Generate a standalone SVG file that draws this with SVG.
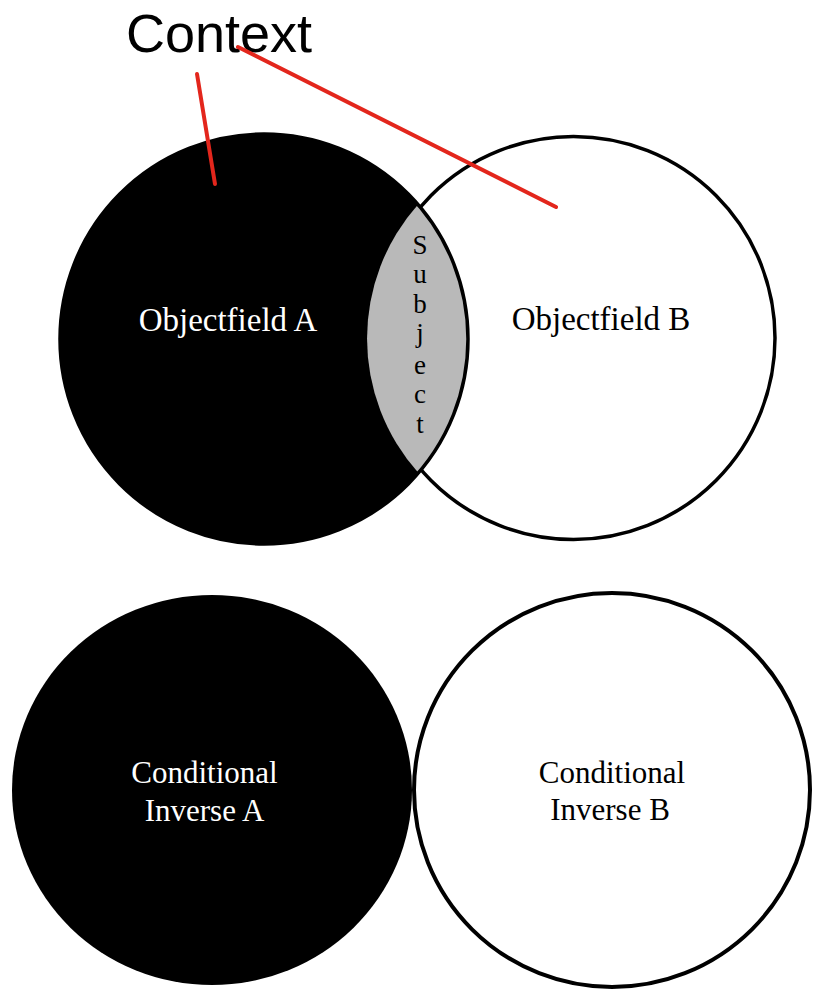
<svg xmlns="http://www.w3.org/2000/svg" width="818" height="998" viewBox="0 0 818 998">
<style>
.lbl{font-family:"Liberation Serif","Times New Roman",serif;text-anchor:middle}
.w{fill:#ffffff}
.k{fill:#000000}
.ctx{font-family:"Liberation Sans",Arial,sans-serif;font-size:54px;fill:#000}
.red{stroke:#e3261c;stroke-width:4;stroke-linecap:round;fill:none}
.outline{fill:none;stroke:#000;stroke-width:3.5}
</style>
<rect width="818" height="998" fill="#ffffff"/>
<g id="objectfield-b">
<circle class="outline" cx="573.5" cy="338" r="201.5" style="fill:#fff"/>
<text class="lbl k" x="601" y="330" font-size="33">Objectfield B</text>
</g>
<g id="objectfield-a">
<ellipse cx="264" cy="339" rx="204" ry="205" fill="#000"/>
<text class="lbl w" x="228" y="331" font-size="33">Objectfield A</text>
</g>
<g id="subject">
<path d="M418.5,204 A204,205 0 0 1 418.5,473 A201.5,201.5 0 0 1 418.5,204 Z" fill="#b9b9b9"/>
<ellipse class="outline" cx="264" cy="339" rx="204" ry="205"/>
<g class="lbl k" font-size="27">
<text x="420" y="254">S</text>
<text x="420" y="283">u</text>
<text x="420" y="313">b</text>
<text x="420" y="342">j</text>
<text x="420" y="374">e</text>
<text x="420" y="403">c</text>
<text x="420" y="433">t</text>
</g>
</g>
<g id="context">
<text class="ctx" x="126" y="52">Context</text>
</g>
<g id="connectors">
<line class="red" x1="197" y1="74" x2="215" y2="184"/>
<line class="red" x1="238" y1="47" x2="556" y2="207"/>
</g>
<g id="inverse-a">
<ellipse cx="212" cy="790" rx="200" ry="195" fill="#000"/>
<text class="lbl w" x="204.5" y="783" font-size="31">Conditional</text>
<text class="lbl w" x="204.5" y="821" font-size="31">Inverse A</text>
</g>
<g id="inverse-b">
<ellipse cx="612" cy="790" rx="198" ry="197" fill="#fff" stroke="#000" stroke-width="4"/>
<text class="lbl k" x="612" y="783" font-size="31">Conditional</text>
<text class="lbl k" x="610" y="820" font-size="31">Inverse B</text>
</g>
</svg>
